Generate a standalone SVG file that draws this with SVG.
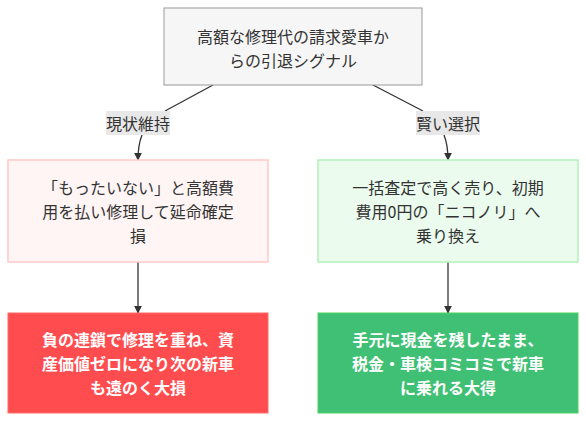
<svg xmlns="http://www.w3.org/2000/svg" width="586" height="422" viewBox="0 0 586 422">
<defs>
<marker id="arr" viewBox="0 0 10 10" refX="9" refY="5" markerWidth="8" markerHeight="8" markerUnits="userSpaceOnUse" orient="auto"><path d="M0,0 L10,5 L0,10 z" fill="#333"/></marker>
<style>
text{font-family:"Noto Sans CJK JP","Noto Sans",sans-serif;font-size:16px;text-anchor:middle;dominant-baseline:central;fill:#333}
.w{fill:#fff;font-weight:bold}
.e{fill:none;stroke:#333;stroke-width:1.3}
.lb{fill:#e8e8e8}
</style>
</defs>
<rect width="586" height="422" fill="#fff"/>
<g id="connectors">
<path class="e" d="M213,85 L165,111"/>
<path class="e" d="M142,135 Q138,145 138,160" marker-end="url(#arr)"/>
<path class="e" d="M373,85 L423,111"/>
<path class="e" d="M444,135 Q448,145 448,160" marker-end="url(#arr)"/>
<path class="e" d="M138,262 L138,313" marker-end="url(#arr)"/>
<path class="e" d="M448,262 L448,313" marker-end="url(#arr)"/>
<g id="label-left"><rect class="lb" x="106" y="111" width="64" height="24"/><text x="138" y="123">現状維持</text></g>
<g id="label-right"><rect class="lb" x="416" y="111" width="64" height="24"/><text x="448" y="123">賢い選択</text></g>
</g>
<g id="start"><rect x="164" y="8" width="258" height="77" fill="#f6f6f6" stroke="#999" stroke-width="1"/><text x="293" y="36">高額な修理代の請求愛車か</text><text x="293" y="60">らの引退シグナル</text></g>
<g id="keep"><rect x="8" y="160" width="260" height="102" fill="#fff5f5" stroke="#ffc9c9" stroke-width="1.5"/><text x="138" y="187">「もったいない」と高額費</text><text x="138" y="211">用を払い修理して延命確定</text><text x="138" y="235">損</text></g>
<g id="smart"><rect x="318" y="160" width="260" height="102" fill="#ebfbee" stroke="#b2f2bb" stroke-width="1.5"/><text x="448" y="187">一括査定で高く売り、初期</text><text x="448" y="211">費用0円の「ニコノリ」へ</text><text x="448" y="235">乗り換え</text></g>
<g id="loss"><rect x="8" y="313" width="260" height="100" fill="#ff4d4f" stroke="#ff6b6b" stroke-width="1"/><text class="w" x="138" y="339">負の連鎖で修理を重ね、資</text><text class="w" x="138" y="363">産価値ゼロになり次の新車</text><text class="w" x="138" y="387">も遠のく大損</text></g>
<g id="gain"><rect x="318" y="313" width="260" height="100" fill="#40c074" stroke="#51cf66" stroke-width="1"/><text class="w" x="448" y="339">手元に現金を残したまま、</text><text class="w" x="448" y="363">税金・車検コミコミで新車</text><text class="w" x="448" y="387">に乗れる大得</text></g>
</svg>
